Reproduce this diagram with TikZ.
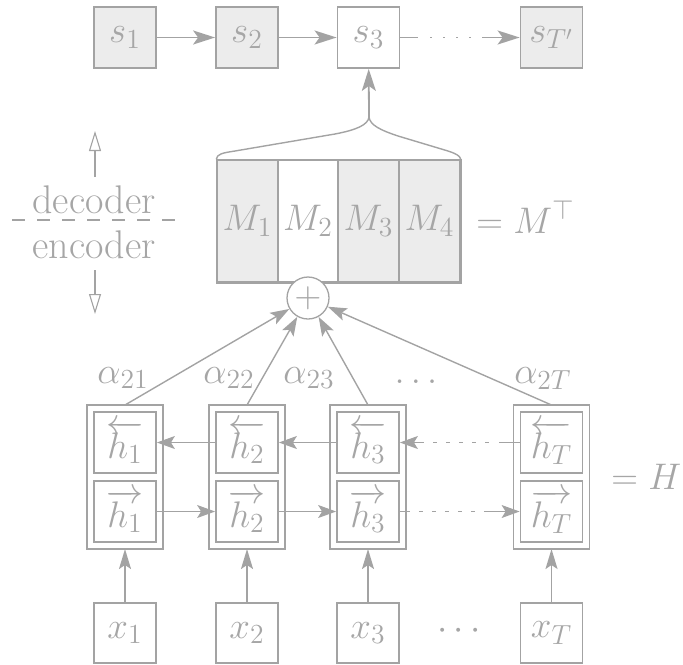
\RequirePackage{fix-cm}
\documentclass[tikz,border=0pt]{standalone}
\usetikzlibrary{arrows.meta}
\DeclareMathSizes{18.5}{18.5}{13.8}{10}
\definecolor{linec}{RGB}{163,163,163}
\definecolor{txtc}{RGB}{166,166,166}
\definecolor{fillc}{RGB}{236,236,236}
\tikzset{
  cell/.style={draw=linec, line width=0.9pt, inner sep=0pt, minimum width=31pt,
    minimum height=30.5pt, text=txtc},
  cellshade/.style={cell, fill=fillc},
  pairbox/.style={draw=linec, line width=0.9pt},
  mcol/.style={draw=linec, line width=0.7pt, inner sep=0pt, minimum width=30.5pt,
    minimum height=61pt, text=txtc},
  lbl/.style={text=txtc, inner sep=0pt},
  sidelbl/.style={lbl, font=\fontsize{20}{22}\selectfont},
  sarrow/.style={draw=linec, line width=0.9pt, -{Stealth[length=11pt,width=7pt,inset=2.5pt]}},
  harrow/.style={draw=linec, line width=0.55pt, -{Stealth[length=9pt,width=6.5pt,inset=2pt]}},
  aarrow/.style={draw=linec, line width=0.7pt, -{Stealth[length=9.5pt,width=6.5pt,inset=2pt]}},
  xarrow/.style={draw=linec, line width=0.85pt, -{Stealth[length=10pt,width=6pt,inset=2pt]}},
  sidearrow/.style={draw=linec, line width=0.55pt, -{Triangle[open,length=10pt,width=6pt]}},
}
\begin{document}
\begin{tikzpicture}[x=0.5pt, y=-0.5pt, font=\fontsize{18.5}{21}\selectfont]
\useasboundingbox (0,0) rectangle (683,664);

% decoder states
\node[cellshade] (s1) at (125,37.5) {$s_1$};
\node[cellshade] (s2) at (247,37.5) {$s_2$};
\node[cell]      (s3) at (368.5,37.5) {$s_3$};
\node[cellshade] (sT) at (551.5,37.5) {$s_{T'}$};
\draw[sarrow] (s1) -- (s2);
\draw[sarrow] (s2) -- (s3);
\draw[sarrow, dash pattern=on 9pt off 6pt on 1pt off 5.5pt on 1pt off 5.5pt on 1pt off 5.5pt on 1pt off 5.5pt on 30pt] (s3) -- (sT);

% context matrix
\node[mcol, fill=fillc] (m1) at (247.5,221) {$M_1$};
\node[mcol]            (m2) at (308,221)   {$M_2$};
\node[mcol, fill=fillc] (m3) at (368.5,221) {$M_3$};
\node[mcol, fill=fillc] (m4) at (429.5,221) {$M_4$};
\draw[draw=linec, line width=0.8pt] (m1.north west) rectangle (m4.south east);
\node[lbl, anchor=base west] (mt) at (476,233) {$= M^\top$};

% brace over the matrix
\coordinate (tip) at (369,117);
\draw[draw=linec, line width=0.7pt]
  (m1.north west) .. controls (217,154) and (222,153) .. (235,151)
  -- (335,134) .. controls (356,130) and (368,125) .. (tip)
  .. controls (370,125) and (380,130) .. (398,136)
  -- (448,151) .. controls (457,154) and (460,156) .. (m4.north east);
\draw[sarrow] (tip) -- (s3);

% weighted sum
\node[circle, draw=linec, line width=0.65pt, fill=white, minimum size=21pt,
  inner sep=0pt, text=txtc] (plus) at (308,298) {$+$};

% encoder hidden states: backward/forward cells inside one frame
\foreach \i/\c in {1/125, 2/247, 3/368, T/551.5}{
  \draw[pairbox] (\c-38,405) rectangle (\c+38,549);
  \coordinate (otop\i) at (\c,405);
  \coordinate (obot\i) at (\c,549);
  \node[cell] (hb\i) at (\c,442.5) {$\overleftarrow{h_{\i}}$};
  \node[cell] (hf\i) at (\c,511.5) {$\overrightarrow{h_{\i}}$};
  \node[cell, minimum height=30pt] (x\i) at (\c,633) {$x_{\i}$};
  \draw[xarrow] (x\i) -- (obot\i);
}
\node[lbl, anchor=base west] (eqH) at (611,489) {$= H$};

\draw[harrow] (hb2) -- (hb1);
\draw[harrow] (hb3) -- (hb2);
\draw[harrow, dash pattern=on 10.5pt off 5pt on 2pt off 4.5pt on 2pt off 4.5pt on 2pt off 4.5pt on 2pt off 4.5pt on 2pt off 4.5pt on 20pt] (hbT) -- (hb3);
\draw[harrow] (hf1) -- (hf2);
\draw[harrow] (hf2) -- (hf3);
\draw[harrow, dash pattern=on 5pt off 4.5pt on 2pt off 4.5pt on 2pt off 4.5pt on 2pt off 4.5pt on 2pt off 4.5pt on 2pt off 4.5pt on 20pt] (hf3) -- (hfT);

% attention weights
\draw[aarrow] (otop1) -- (plus);
\draw[aarrow] (otop2) -- (plus);
\draw[aarrow] (otop3) -- (plus);
\draw[aarrow] (otopT) -- (plus);
\node[lbl, anchor=base] (a1) at (123,383) {$\alpha_{21}$};
\node[lbl, anchor=base] (a2) at (229,383) {$\alpha_{22}$};
\node[lbl, anchor=base] (a3) at (309,383) {$\alpha_{23}$};
\node[lbl, anchor=base] (adots) at (416,383) {$\ldots$};
\node[lbl, anchor=base] (aT) at (543,383) {$\alpha_{2T}$};
\node[lbl, anchor=base] (xdots) at (459,639) {$\cdots$};

% decoder / encoder divider
\draw[draw=linec, line width=0.6pt, dash pattern=on 6.5pt off 6pt] (12,220) -- (176,220);
\node[sidelbl, anchor=base] (dec) at (94,213) {decoder};
\node[sidelbl, anchor=base] (enc) at (94,258) {encoder};
\coordinate (upS) at (95,177);
\coordinate (upE) at (95,131);
\coordinate (dnS) at (95,270);
\coordinate (dnE) at (95,314);
\draw[sidearrow] (upS) -- (upE);
\draw[sidearrow] (dnS) -- (dnE);
\end{tikzpicture}
\end{document}
